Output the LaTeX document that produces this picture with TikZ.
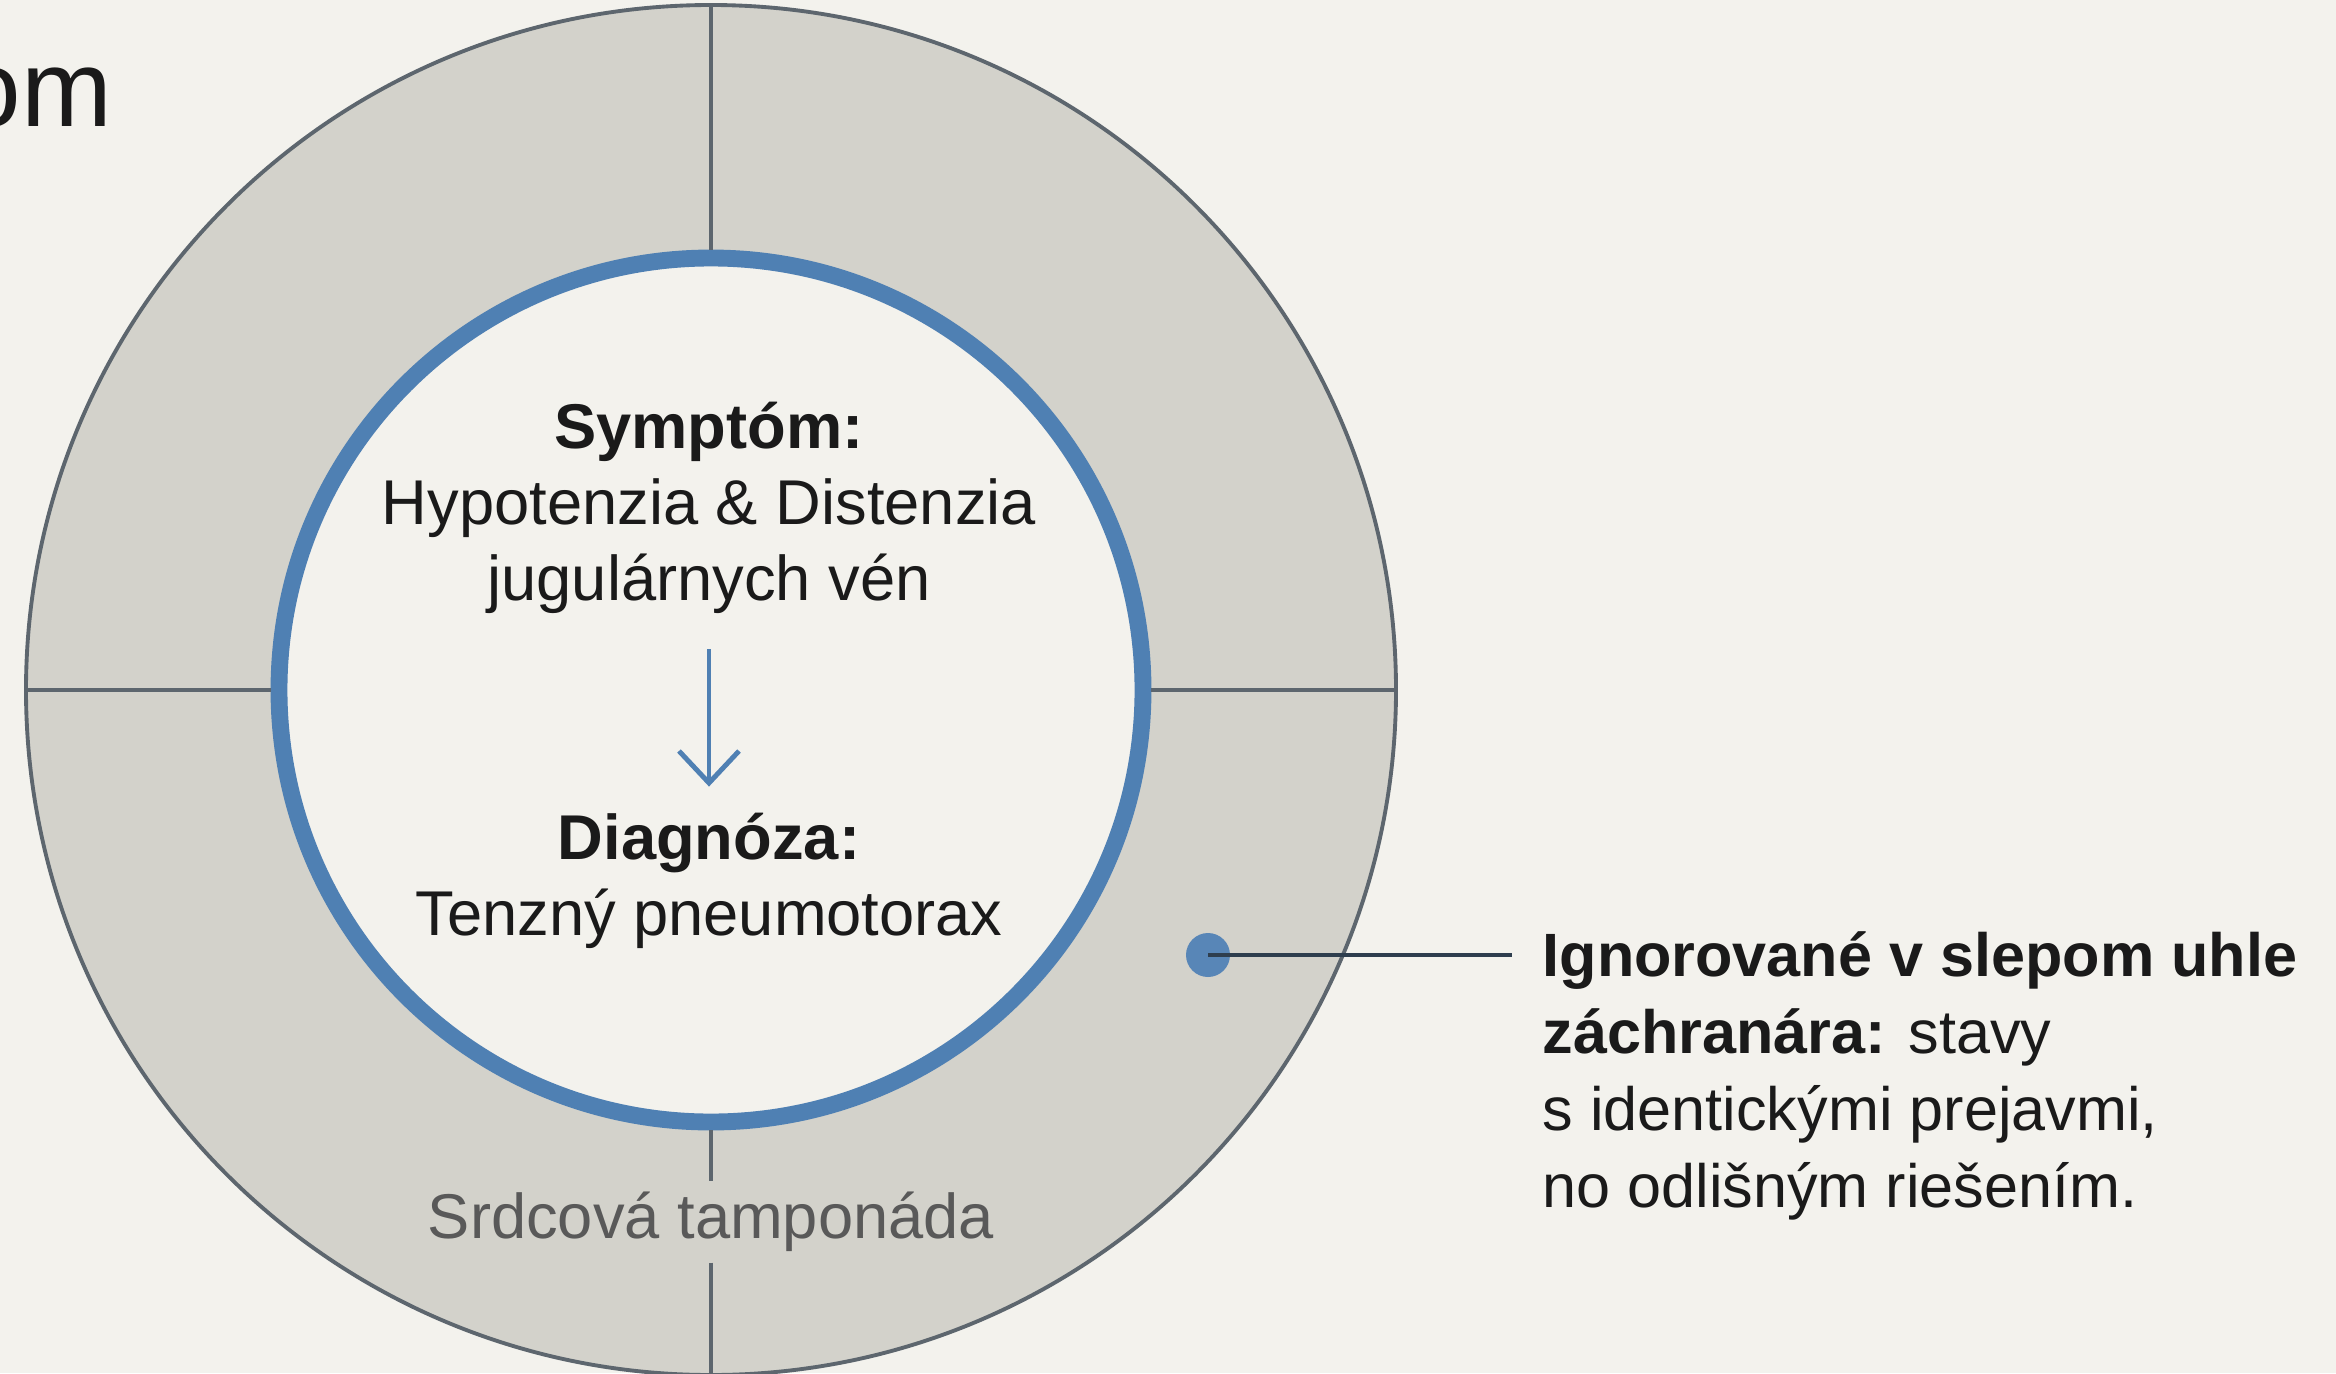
\documentclass[tikz,border=0pt]{standalone}
\usepackage{fontspec}
\setmainfont{Liberation Sans}
\usetikzlibrary{arrows.meta,positioning}
\definecolor{paper}{HTML}{F3F2ED}
\definecolor{ringL}{HTML}{D3D2CB}
\definecolor{ringD}{HTML}{C5C4BD}
\definecolor{rim}{HTML}{5D666E}
\definecolor{steel}{HTML}{4F80B3}
\definecolor{ink}{HTML}{1A1A1A}
\definecolor{navy}{HTML}{2E3E4E}
\pgfdeclareradialshading{ringshade}{\pgfpoint{0bp}{0bp}}{color(0bp)=(ringL); color(32bp)=(ringL); color(39bp)=(ringD); color(44bp)=(ringD); color(50bp)=(ringL); color(100bp)=(ringL)}

\begin{document}
\begin{tikzpicture}[>=Latex,
 txt/.style={text=ink,align=center,inner sep=0pt,font=\fontsize{18}{21.6}\selectfont},
 divider/.style={draw=rim,line width=1pt},
 arr/.style={draw=steel,line width=1.4pt,-{Straight Barb[length=3.2mm,width=6mm,line width=1.4pt]}}]
 \useasboundingbox (0,0) rectangle (23.36,13.73);
 \fill[paper] (0,0) rectangle (23.36,13.73);
 \node[text=ink,anchor=base east,inner sep=0pt,font=\fontsize{31}{37}\selectfont] (head) at (1.13,12.46) {om};
 \node[circle,draw=rim,line width=1.1pt,shading=ringshade,minimum size=13.7cm,inner sep=0pt] (outer) at (7.11,6.83) {};
 \node[circle,draw=steel,line width=4.8pt,fill=paper,minimum size=8.64cm,inner sep=0pt] (inner) at (7.11,6.83) {};
 \node[txt] (sym) at (7.09,8.65) {\textbf{Symptóm:}\\Hypotenzia \& Distenzia\\jugulárnych vén};
 \node[txt] (diag) at (7.09,4.92) {\textbf{Diagnóza:}\\Tenzný pneumotorax};
 \node[txt,text=black!65,inner sep=1mm] (tamp) at (7.11,1.51) {Srdcová tamponáda};
 \draw[arr,shorten <=3.5mm,shorten >=2.6mm] (sym.south) -- (diag.north);
 \draw[divider] (outer.north) -- (inner.north);
 \draw[divider] (outer.west) -- (inner.west);
 \draw[divider] (inner.east) -- (outer.east);
 \draw[divider] (inner.south) -- (tamp.north);
 \draw[divider] (tamp.south) -- (outer.south);
 \node[circle,fill=steel!95!white,minimum size=4.4mm,inner sep=0pt] (dot) at (12.08,4.18) {};
 \node[text=ink,align=left,anchor=base west,inner sep=0pt,font=\fontsize{17.4}{21.9}\selectfont] (note) at (15.42,1.66)
  {\textbf{Ignorované v slepom uhle}\\\textbf{záchranára:} stavy\\s identickými prejavmi,\\no odlišným riešením.};
 \draw[navy,line width=1.4pt,shorten >=3mm] (dot.center) -- (dot.center -| note.west);
\end{tikzpicture}
\end{document}
